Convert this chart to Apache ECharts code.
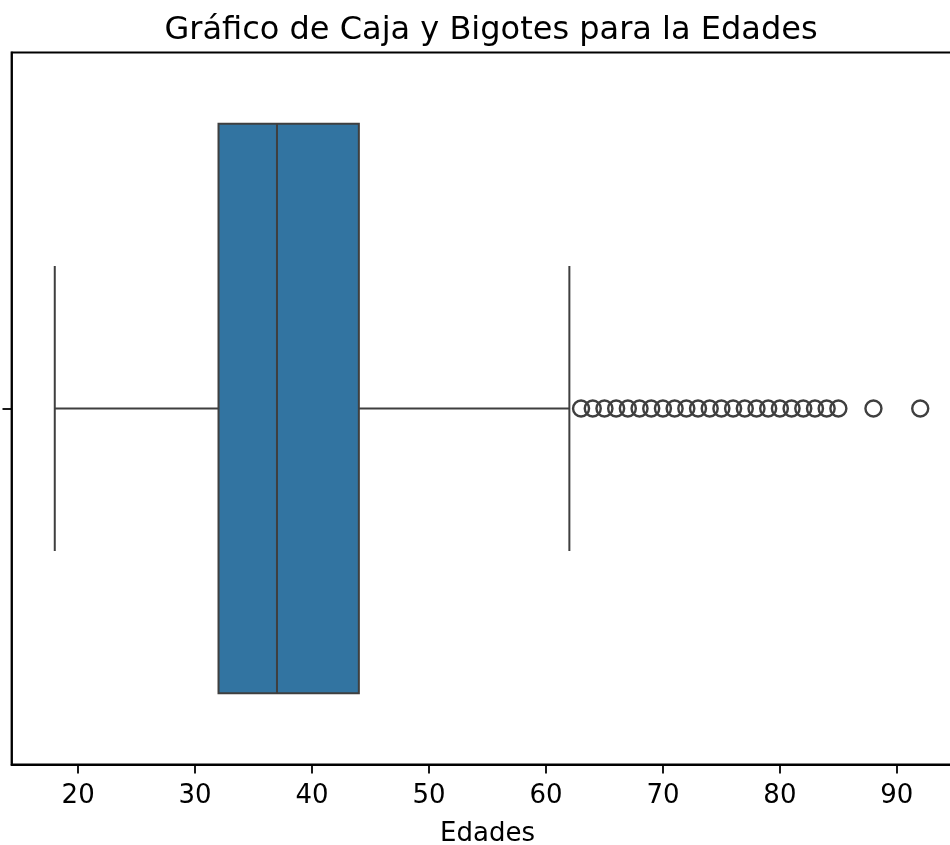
<!DOCTYPE html>
<html>
<head>
<meta charset="utf-8">
<script src="https://cdn.jsdelivr.net/npm/echarts@6/dist/echarts.min.js"></script>
<style>html,body{margin:0;padding:0;background:#fff}#c{width:950px;height:845px}</style>
</head>
<body>
<div id="c"></div>
<script>
const categories = [''];
// min whisker, Q1, median, Q3, max whisker
const boxStats = [18, 32, 37, 44, 62];
const outliers = [63,64,65,66,67,68,69,70,71,72,73,74,75,76,77,78,79,80,81,82,83,84,85,88,92];
const xTicks = [20,30,40,50,60,70,80,90];

const FONT = 'DejaVu Sans';
const LINE = '#3f3f3f';
const chart = echarts.init(document.getElementById('c'), null, {renderer:'canvas'});

chart.setOption({
  animation: false,
  backgroundColor: '#fff',
  title: {
    text: 'Gráfico de Caja y Bigotes para la Edades',
    left: 486, top: 10, textAlign: 'center',
    textStyle: {fontFamily: FONT, fontSize: 32, fontWeight: 'normal', color: '#000'}
  },
  grid: {left: 11.5, width: 952, top: 52.5, height: 712, outerBoundsMode: 'none', containLabel: false,
         show: true, borderColor: '#000', borderWidth: 1.8, backgroundColor: 'transparent'},
  xAxis: {
    type: 'value', min: 14.3, max: 95.7,
    name: 'Edades', nameLocation: 'middle', nameGap: 57,
    nameTextStyle: {fontFamily: FONT, fontSize: 26, color: '#000'},
    axisLine: {show: true, lineStyle: {color: '#000', width: 1.8}},
    axisTick: {show: true, length: 9, customValues: xTicks, lineStyle: {color: '#000', width: 1.8}},
    axisLabel: {customValues: xTicks, margin: 19, fontFamily: FONT, fontSize: 26, color: '#000'},
    splitLine: {show: false}
  },
  yAxis: {
    type: 'category', data: categories,
    axisLine: {show: true, lineStyle: {color: '#000', width: 1.8}},
    axisTick: {show: true, length: 9, alignWithLabel: true, lineStyle: {color: '#000', width: 1.8}},
    axisLabel: {show: false},
    splitLine: {show: false}
  },
  series: [
    {
      type: 'custom',
      data: [[0].concat(boxStats)],
      encode: {y: 0, x: [1,2,3,4,5]},
      renderItem: function (params, api) {
        const cat = api.value(0);
        const pMin = api.coord([api.value(1), cat]);
        const pQ1 = api.coord([api.value(2), cat]);
        const pMed = api.coord([api.value(3), cat]);
        const pQ3 = api.coord([api.value(4), cat]);
        const pMax = api.coord([api.value(5), cat]);
        const band = api.size([0, 1])[1];
        const half = band * 0.4;
        const cap = band * 0.2;
        const yc = pMed[1];
        const ls = {stroke: LINE, lineWidth: 2, fill: null};
        return {
          type: 'group',
          children: [
            {type: 'line', shape: {x1: pMin[0], y1: yc, x2: pQ1[0], y2: yc}, style: ls},
            {type: 'line', shape: {x1: pQ3[0], y1: yc, x2: pMax[0], y2: yc}, style: ls},
            {type: 'line', shape: {x1: pMin[0], y1: yc - cap, x2: pMin[0], y2: yc + cap}, style: ls},
            {type: 'line', shape: {x1: pMax[0], y1: yc - cap, x2: pMax[0], y2: yc + cap}, style: ls},
            {type: 'rect', shape: {x: pQ1[0], y: yc - half, width: pQ3[0] - pQ1[0], height: 2 * half},
             style: {fill: '#3274a1', stroke: LINE, lineWidth: 2}},
            {type: 'line', shape: {x1: pMed[0], y1: yc - half, x2: pMed[0], y2: yc + half}, style: ls}
          ]
        };
      },
      z: 2
    },
    {
      type: 'scatter',
      data: outliers.map(v => [v, 0]),
      symbol: 'circle', symbolSize: 16,
      itemStyle: {color: 'rgba(255,255,255,0)', borderColor: LINE, borderWidth: 2.4, opacity: 1},
      z: 3
    }
  ]
});
</script>
</body>
</html>
